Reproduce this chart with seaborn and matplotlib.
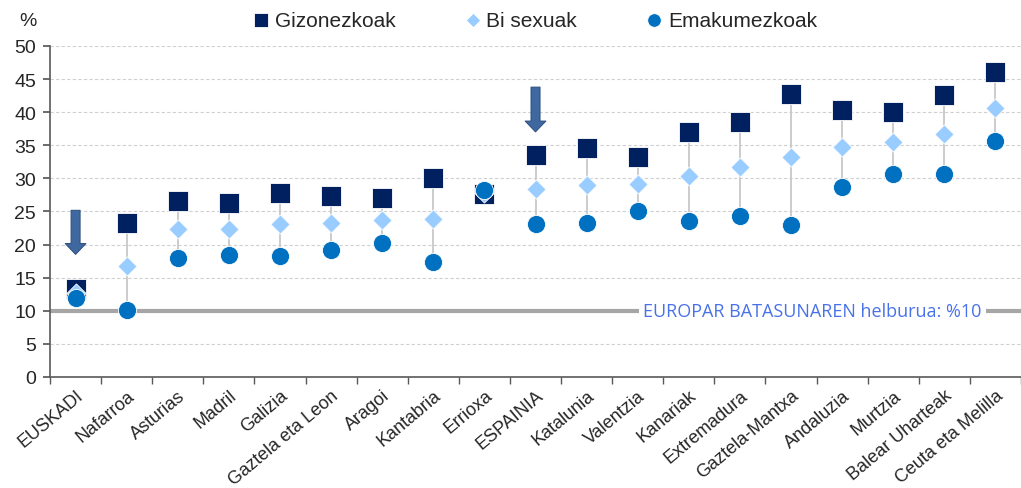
import numpy as np
import pandas as pd
import matplotlib
matplotlib.use("Agg")
import matplotlib.pyplot as plt
import seaborn as sns

regions = ["EUSKADI", "Nafarroa", "Asturias", "Madril", "Galizia", "Gaztela eta Leon",
           "Aragoi", "Kantabria", "Errioxa", "ESPAINIA", "Katalunia", "Valentzia",
           "Kanariak", "Extremadura", "Gaztela-Mantxa", "Andaluzia", "Murtzia",
           "Balear Uharteak", "Ceuta eta Melilla"]
gizonezkoak = [13.3, 23.3, 26.6, 26.3, 27.8, 27.3, 27.1, 30.1, 27.6, 33.5, 34.6, 33.3,
               37.0, 38.5, 42.7, 40.3, 40.0, 42.6, 46.0]
bi_sexuak = [12.7, 16.8, 22.3, 22.3, 23.1, 23.3, 23.7, 23.9, 27.8, 28.4, 29.0, 29.2,
             30.4, 31.7, 33.2, 34.7, 35.5, 36.7, 40.7]
emakumezkoak = [11.9, 10.1, 17.9, 18.4, 18.3, 19.2, 20.3, 17.4, 28.3, 23.1, 23.2, 25.0,
                23.5, 24.3, 23.0, 28.7, 30.6, 30.7, 35.6]
series_names = ["Gizonezkoak", "Bi sexuak", "Emakumezkoak"]
target = 10
target_label = "EUROPAR BATASUNAREN helburua: %10"
# arrows pointing at highlighted regions (start, end values)
arrow_regions = ["EUSKADI", "ESPAINIA"]
arrow_start = [25.6, 44.2]
arrow_end = [18.1, 36.6]

sns.set_theme(style="white")
plt.rcParams["font.family"] = ["Liberation Sans", "DejaVu Sans"]

df = pd.DataFrame({"region": regions, "Gizonezkoak": gizonezkoak,
                   "Bi sexuak": bi_sexuak, "Emakumezkoak": emakumezkoak})
df["pos"] = np.arange(len(regions))
long_df = df.melt(id_vars=["region", "pos"], value_vars=series_names,
                  var_name="series", value_name="value")

fig = plt.figure(figsize=(10.21, 4.89), dpi=100)
ax = fig.add_axes([0.049, 0.227, 0.951, 0.677])

# range lines
lo = df[series_names].min(axis=1)
hi = df[series_names].max(axis=1)
ax.vlines(df["pos"], lo, hi, color="#c8c8c8", lw=1.3, zorder=1)

# target line
ax.axhline(target, color="#a6a6a6", lw=3, zorder=1.5)
ax.text(14.42, target, target_label, color="#4a72e8", fontsize=13,
        family=["Open Sans", "DejaVu Sans"], va="center", ha="center",
        bbox=dict(facecolor="white", edgecolor="none", pad=3), zorder=2)

palette = {"Gizonezkoak": "#002060", "Bi sexuak": "#99ccff", "Emakumezkoak": "#0070c0"}
markers = {"Gizonezkoak": "s", "Bi sexuak": "D", "Emakumezkoak": "o"}
sizes = {"Gizonezkoak": 190, "Bi sexuak": 95, "Emakumezkoak": 170}
for name in series_names:
    sub = long_df[long_df["series"] == name]
    sns.scatterplot(data=sub, x="pos", y="value", color=palette[name], marker=markers[name],
                    s=sizes[name], edgecolor="white", linewidth=0.6, ax=ax, zorder=3,
                    label=name)

# arrows
for r, y0, y1 in zip(arrow_regions, arrow_start, arrow_end):
    i = regions.index(r)
    ax.annotate("", xy=(i, y1), xytext=(i, y0),
                arrowprops=dict(arrowstyle="simple,head_length=0.6,head_width=1.15,tail_width=0.5",
                                mutation_scale=13, facecolor="#4068a0", edgecolor="#2c4d7e",
                                lw=0.7),
                zorder=4)

ax.set_xlim(-0.5, len(regions) - 0.5)
ax.set_ylim(0, 50)
ax.set_yticks(range(0, 51, 5))
ax.tick_params(axis="y", labelsize=14, length=5, direction="out", left=True,
               color="#595959", pad=5)
ax.set_xticks(df["pos"])
ax.set_xticklabels(regions, rotation=40, ha="right", rotation_mode="anchor",
                   fontsize=13)
ax.tick_params(axis="x", length=0, pad=7)
ax.set_xticks(np.arange(-0.5, len(regions), 1), minor=True)
ax.tick_params(axis="x", which="minor", length=5, direction="out", bottom=True,
               color="#595959")
ax.set_xlabel("")
ax.set_ylabel("")
ax.yaxis.grid(True, color="#d0d0d0", ls=(0, (3, 2)), lw=0.8)
ax.set_axisbelow(True)
for s in ["top", "right"]:
    ax.spines[s].set_visible(False)
for s in ["left", "bottom"]:
    ax.spines[s].set_color("#595959")
    ax.spines[s].set_linewidth(1.2)

ax.legend_.remove()
handles, labels = ax.get_legend_handles_labels()
fig.legend(handles, labels, loc="center", bbox_to_anchor=(0.523, 0.957), ncol=3,
           frameon=False, fontsize=15, handlelength=1.0, handletextpad=0.15,
           columnspacing=3.2, markerscale=0.75)
fig.text(0.027, 0.957, "%", fontsize=14, ha="center", va="center")

fig.savefig("out.png", dpi=100)
